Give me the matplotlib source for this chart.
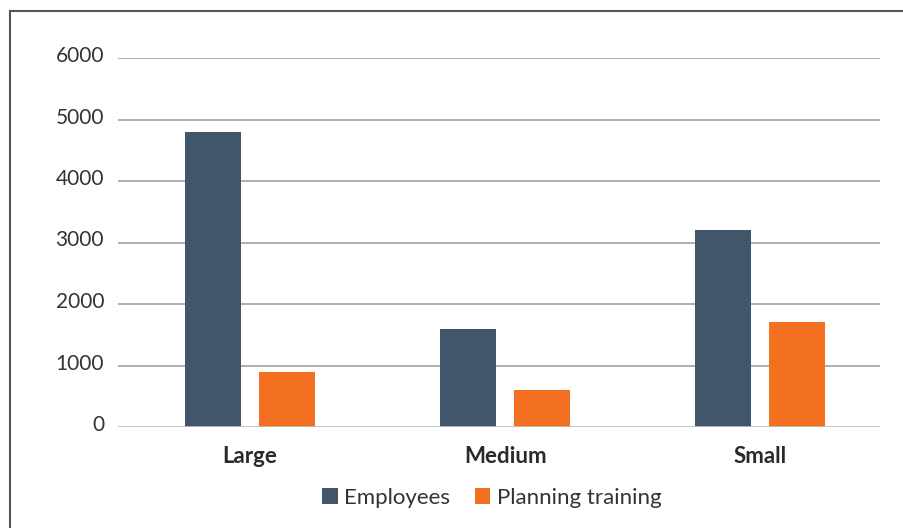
import numpy as np
import matplotlib.pyplot as plt
from matplotlib.lines import Line2D
from matplotlib.transforms import ScaledTranslation

plt.rcParams['font.family'] = ['Lato', 'DejaVu Sans']

categories = ["Large", "Medium", "Small"]
employees = [4800, 1600, 3200]
planning = [900, 600, 1700]
yticks = [0, 1000, 2000, 3000, 4000, 5000, 6000]

c_emp = "#41566b"
c_plan = "#f37021"

fig = plt.figure(figsize=(9.04, 5.28), dpi=100)
W, H = 904, 528
ax = fig.add_axes([118 / W, 1 - 427 / H, (880 - 118) / W, (427 - 58) / H])

x = np.arange(len(categories))
w = 0.22
ax.bar(x - 0.145, employees, w, color=c_emp, label="Employees", zorder=3)
ax.bar(x + 0.145, planning, w, color=c_plan, label="Planning training", zorder=3)

ax.set_xlim(-0.518, 2.47)
ax.set_ylim(0, 6000)
ax.set_yticks(yticks)
ax.set_yticklabels([str(v) for v in yticks])
for v in yticks[1:]:
    ax.axhline(v, color="#9a9a9a", lw=1.1, zorder=1)
ax.axhline(0, color="#bdbdbd", lw=2, zorder=4)

for s in ax.spines.values():
    s.set_visible(False)
ax.tick_params(axis='y', length=0, pad=10, labelsize=15, labelcolor="#333333")
ax.tick_params(axis='x', length=0, pad=14, labelsize=16, labelcolor="#2a2a2a")
ax.set_xticks(x)
ax.set_xticklabels(categories, fontweight='bold')
for lab in ax.get_yticklabels():
    lab.set_transform(lab.get_transform() + ScaledTranslation(0, 4 / 100, fig.dpi_scale_trans))

ax.legend(loc='center', bbox_to_anchor=(492 / W, 1 - 498 / H), bbox_transform=fig.transFigure,
          ncol=2, frameon=False, fontsize=16, handlelength=0.7, handleheight=0.7,
          handletextpad=0.3, columnspacing=1.1, labelcolor="#333333")

# outer frame (left and top only)
fig.add_artist(Line2D([9.5 / W, 9.5 / W], [0, 1 - 11 / H], transform=fig.transFigure,
                      color="#555555", lw=1.5))
fig.add_artist(Line2D([9.5 / W, 1], [1 - 11 / H, 1 - 11 / H], transform=fig.transFigure,
                      color="#555555", lw=1.5))

fig.savefig("out.png", dpi=100)
